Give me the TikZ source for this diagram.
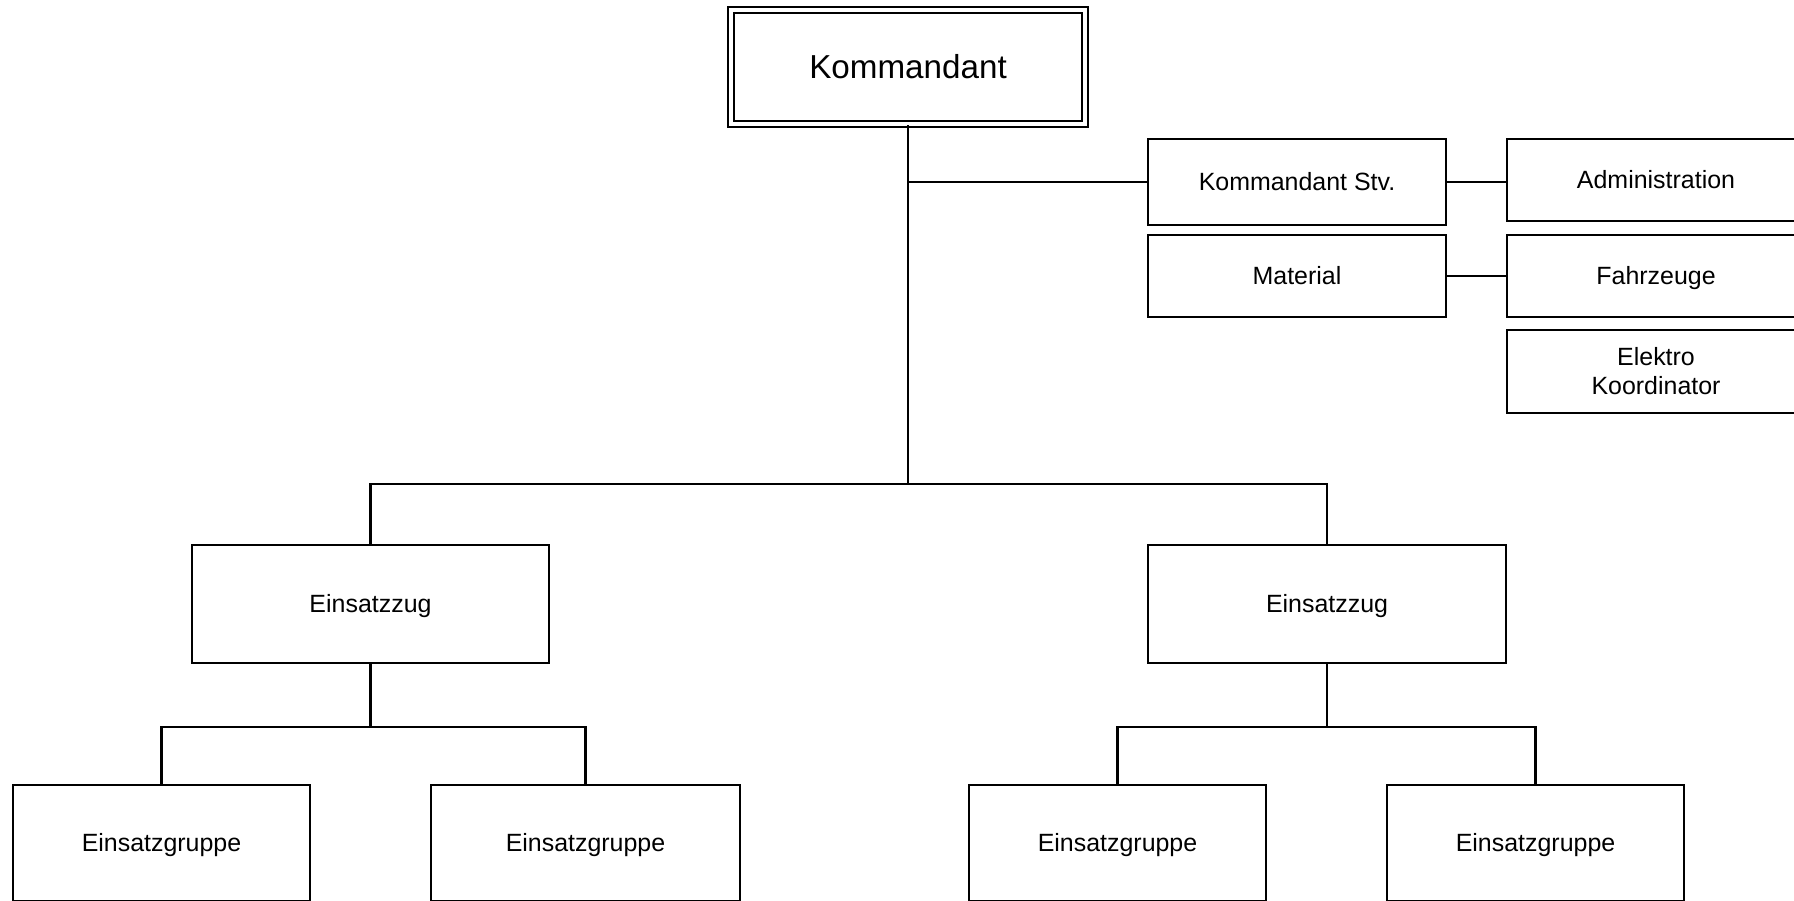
\documentclass[tikz,border=0pt]{standalone}
\usepackage{fontspec}
\setmainfont{Liberation Sans}
\begin{document}
\begin{tikzpicture}[x=0.02cm,y=-0.02cm,
  box/.style={draw, line width=1.6pt, inner sep=0pt, align=center,
    font=\fontsize{14.2}{16.5}\selectfont},
  one/.style={text height=10.2pt, text depth=0pt},
  wh/.style 2 args={minimum width=#1*0.02cm, minimum height=#2*0.02cm},
  topbox/.style={draw, double=white, line width=1.2pt, double distance=2.2pt,
    inner sep=0pt, font=\fontsize{18.9}{22}\selectfont, text height=13.5pt, text depth=0pt},
  conn/.style={line width=1.6pt},
]
\fill[white] (0,0) rectangle (1794,901);
\useasboundingbox (0,0) rectangle (1794,901);
\clip (0,0) rectangle (1794,901);

% nodes
\node[topbox, wh={354}{114}] (kom) at (908,67) {Kommandant};
\node[box, one, wh={298}{86}] (stv) at (1297,182) {Kommandant Stv.};
\node[box, one, wh={298}{82}] (mat) at (1297,276) {Material};
\node[box, one, wh={298}{82}] (adm) at (1656,180) {Administration};
\node[box, one, wh={298}{82}] (fahr) at (1656,276) {Fahrzeuge};
\node[box, wh={298}{83}] (elek) at (1656,371.5) {Elektro\\Koordinator};
\node[box, one, wh={357}{118}] (ez1) at (370.5,604) {Einsatzzug};
\node[box, one, wh={358}{118}] (ez2) at (1327,604) {Einsatzzug};
\node[box, one, wh={297}{116}] (eg1) at (161.5,843) {Einsatzgruppe};
\node[box, one, wh={309}{116}] (eg2) at (585.5,843) {Einsatzgruppe};
\node[box, one, wh={297}{116}] (eg3) at (1117.5,843) {Einsatzgruppe};
\node[box, one, wh={297}{116}] (eg4) at (1535.5,843) {Einsatzgruppe};

% junctions
\coordinate (j1) at (908,182);
\coordinate (b1) at (908,484);
\coordinate (b2) at (370.5,727);
\coordinate (b3) at (1327,727);

% connectors
\draw[conn] (kom.south) -- (b1);
\draw[conn] (j1) -- (stv.west);
\draw[conn] (stv.east) -- (adm.west |- stv.east);
\draw[conn] (mat.east) -- (fahr.west);
\draw[conn] (ez1.north) |- (b1) -| (ez2.north);
\draw[conn] (ez1.south) -- (b2);
\draw[conn] (eg1.north) |- (b2) -| (eg2.north);
\draw[conn] (ez2.south) -- (b3);
\draw[conn] (eg3.north) |- (b3) -| (eg4.north);
\end{tikzpicture}
\end{document}
